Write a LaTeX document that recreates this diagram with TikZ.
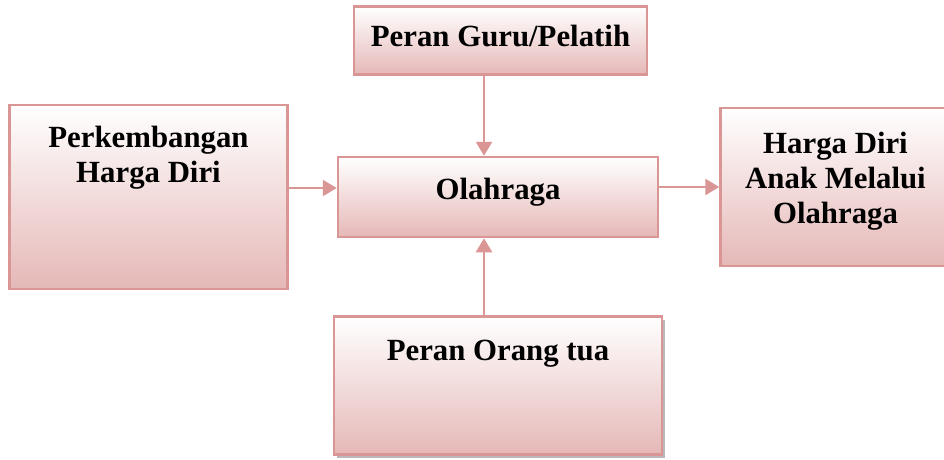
\documentclass[tikz,border=0pt]{standalone}
\usepackage{fontspec}
\setmainfont{Liberation Serif}
\usetikzlibrary{positioning,arrows.meta,shadows}
\definecolor{rimred}{RGB}{217,150,148}
\definecolor{fillred}{RGB}{229,184,183}
\tikzstyle{box}=[draw=rimred,
line width=2.5pt,
top color=white,
bottom color=fillred,
inner sep=0pt,
]
\tikzstyle{caption}=[anchor=north,
inner sep=0pt,
align=center,
font=\fontsize{30.8}{35}\selectfont\bfseries,
]
\tikzstyle{link}=[draw=rimred,
line width=2.5pt,
-{Triangle[length=14pt,width=16pt]},
]

\begin{document}
\begin{tikzpicture}
        \useasboundingbox (0,0) rectangle (944pt,459pt);
        \node[box, minimum width=320pt, minimum height=80pt, label={[caption, yshift=-22pt]north:Olahraga}] (olahraga) at (498pt,262pt) {};
        \node[box, minimum width=293pt, minimum height=68pt, above=80pt of olahraga, xshift=2.5pt, label={[caption, yshift=-20pt]north:Peran Guru/Pelatih}] (guru) {};
        \node[box, minimum width=328pt, minimum height=138pt, below=77pt of olahraga, drop shadow={shadow xshift=3pt, shadow yshift=-3pt, fill=black!55}, label={[caption, yshift=-25pt]north:Peran Orang tua}] (orangtua) {};
        \node[box, minimum width=278pt, minimum height=184pt, left=48pt of olahraga, label={[caption, yshift=-22pt]north:{Perkembangan\\Harga Diri}}] (kembang) {};
        \node[box, minimum width=230pt, minimum height=158pt, right=60pt of olahraga, yshift=10pt, label={[caption, yshift=-25pt]north:{Harga Diri\\Anak Melalui\\Olahraga}}] (hasil) {};
        \coordinate (mid) at ([xshift=-14pt]olahraga.center);

        \draw[link] (guru.south -| mid) -- (olahraga.north -| mid);
        \draw[link] (orangtua.north -| mid) -- (olahraga.south -| mid);
        \draw[link] ([yshift=9pt]kembang.east) -- ([yshift=9pt]olahraga.west);
        \draw[link] ([yshift=10pt]olahraga.east) -- (hasil.west);
    \end{tikzpicture}
\end{document}
